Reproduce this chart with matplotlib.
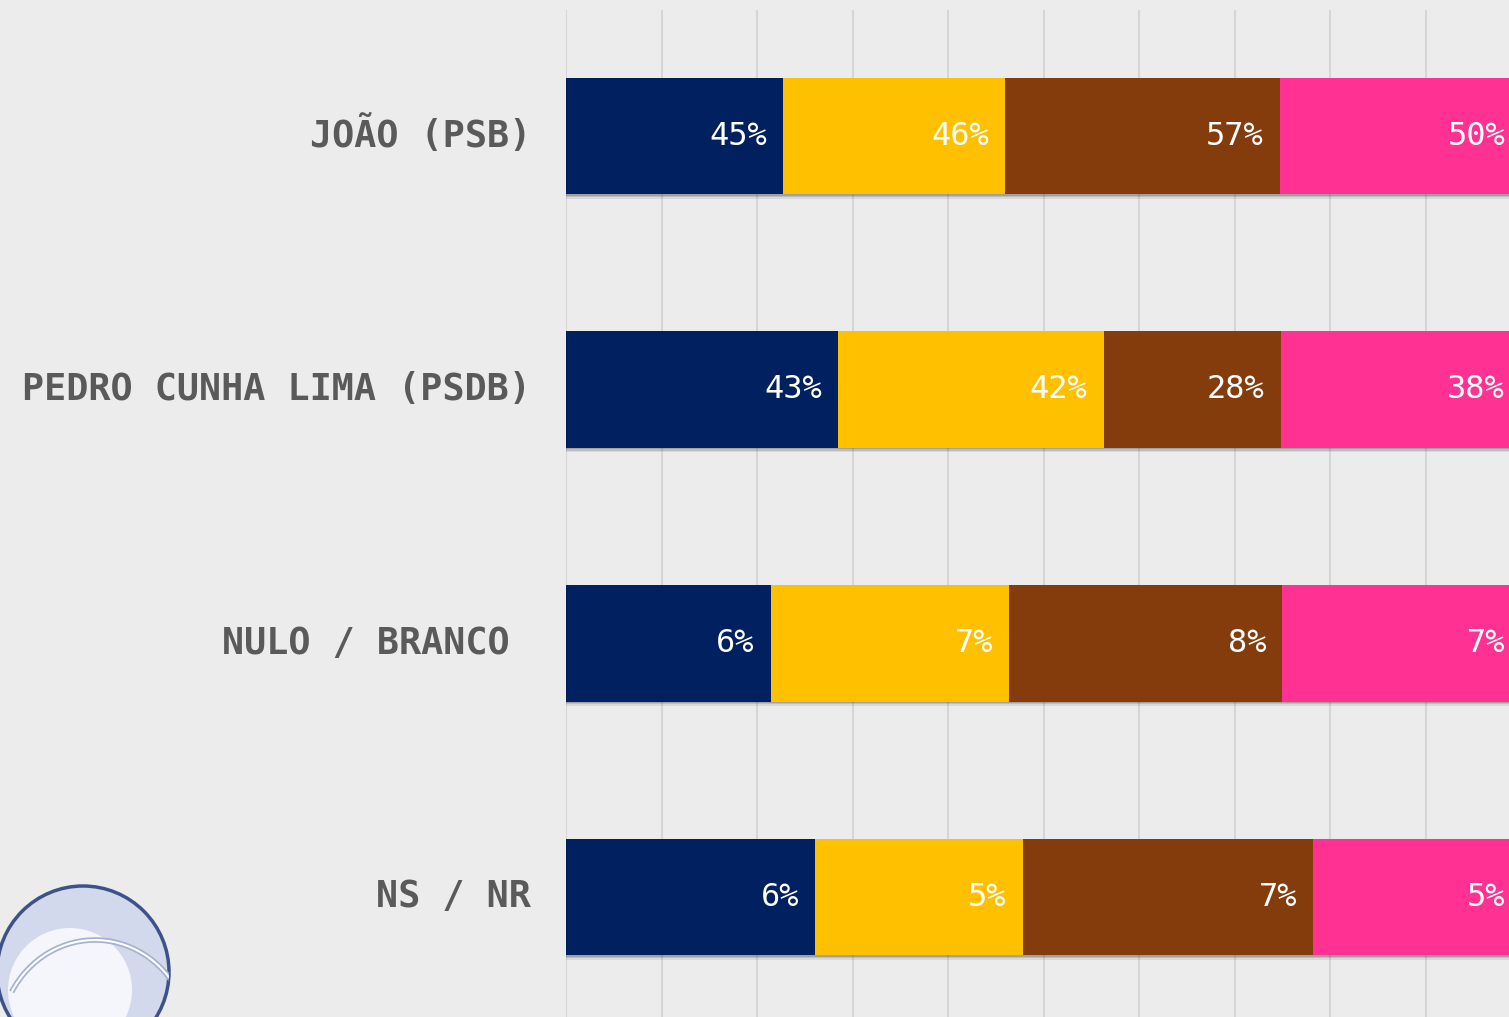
import matplotlib
matplotlib.use('Agg')
import matplotlib.pyplot as plt
import matplotlib.patheffects as pe
import matplotlib.transforms as mtransforms
from matplotlib.patches import Circle, Arc
import numpy as np

# data (each row is drawn as a 100% stacked bar)
categories = ['JOÃO (PSB)', 'PEDRO CUNHA LIMA (PSDB)', 'NULO / BRANCO ', 'NS / NR']
serie_azul = [45, 43, 6, 6]
serie_amarela = [46, 42, 7, 5]
serie_marrom = [57, 28, 8, 7]
serie_rosa = [50, 38, 7, 5]

colors = ['#002060', '#FFC000', '#843C0C', '#FF3192']
BG = '#ececec'

series = np.array([serie_azul, serie_amarela, serie_marrom, serie_rosa], dtype=float)
totals = series.sum(axis=0)
shares = series / totals * 100

fig = plt.figure(figsize=(15.09, 10.17), dpi=100)
fig.patch.set_facecolor(BG)

ax = fig.add_axes([566 / 1509, 0, 955 / 1509, 1007 / 1017])
ax.set_facecolor('none')

y = np.arange(len(categories))
left = np.zeros(len(categories))
# soft shadow under the bars
shadow = [pe.SimplePatchShadow(offset=(0, -3), shadow_rgbFace='k', alpha=0.08),
          pe.SimplePatchShadow(offset=(0, -2), shadow_rgbFace='k', alpha=0.12),
          pe.SimplePatchShadow(offset=(0, -1), shadow_rgbFace='k', alpha=0.15),
          pe.Normal()]
for k in range(len(series)):
    bars = ax.barh(y, shares[k], left=left, height=0.46, color=colors[k],
                   edgecolor='none', zorder=3)
    for b in bars:
        b.set_path_effects(shadow)
    for i in range(len(categories)):
        ax.annotate(f'{int(series[k][i])}%', xy=(left[i] + shares[k][i], y[i]),
                    xytext=(-16, 0), textcoords='offset pixels',
                    ha='right', va='center', color='white', fontsize=23,
                    family='DejaVu Sans Mono', zorder=4)
    left += shares[k]

ax.set_xlim(0, 100)
ax.set_ylim(3.473, -0.497)
ax.set_xticks(range(0, 101, 10))
ax.xaxis.grid(True, color='#d6d6d6', linewidth=1.5, zorder=0)
ax.tick_params(axis='x', length=0, labelbottom=False)
ax.set_yticks(y)
ax.set_yticklabels(categories, family='DejaVu Sans Mono', fontweight='bold',
                   fontsize=26.5, color='#5a5a5a')
ax.tick_params(axis='y', length=0, pad=25)
up = mtransforms.ScaledTranslation(0, 3 / 72, fig.dpi_scale_trans)
for lab in ax.get_yticklabels():
    lab.set_va('center_baseline')
    lab.set_transform(lab.get_transform() + up)
for s in ax.spines.values():
    s.set_visible(False)

# logo in the lower left corner
ball = Circle((83, 1017 - 972), 86, transform=None, facecolor='#d3d9ec',
              edgecolor='#3d5288', linewidth=2.5, zorder=1)
fig.add_artist(ball)
inner = Circle((70, 1017 - 990), 62, transform=None, facecolor='#f4f6fb',
               edgecolor='none', zorder=1)
fig.add_artist(inner)
inner.set_clip_path(ball)
for lw, c in [(4, '#a6b1d2'), (1.5, 'white')]:
    arc = Arc((95, 1017 - 1040), 190, 200, theta1=25, theta2=150, transform=None,
              color=c, linewidth=lw, zorder=2)
    fig.add_artist(arc)
    arc.set_clip_path(ball)

fig.savefig('out.png', dpi=100, facecolor=fig.get_facecolor())
